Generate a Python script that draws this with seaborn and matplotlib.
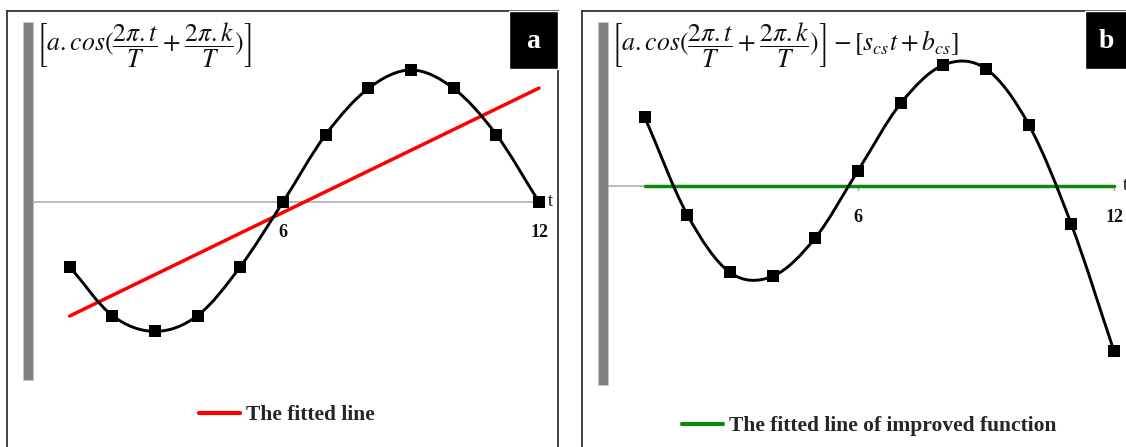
import numpy as np
import seaborn as sns
import matplotlib
matplotlib.use("Agg")
import matplotlib.pyplot as plt
from matplotlib.patches import Rectangle, PathPatch
from matplotlib.path import Path
from matplotlib.lines import Line2D

# ---- data ----
t = [1, 2, 3, 4, 5, 6, 7, 8, 9, 10, 11, 12]
cos_model = [-0.49, -0.86, -0.98, -0.86, -0.49, 0.0, 0.51, 0.86, 1.0, 0.86, 0.51, 0.0]
improved = [0.36, -0.15, -0.45, -0.47, -0.27, 0.08, 0.43, 0.63, 0.61, 0.32, -0.20, -0.86]
fit_slope = 0.157      # s_cs
fit_intercept = -1.021  # b_cs
fit_t = [1, 12]
improved_fit = [0.0, 0.0]
tick_labels = ["6", "12"]
tick_pos = [6, 12]
legend_a = "The fitted line"
legend_b = "The fitted line of improved function"
formula_a = r"$\left[a.cos(\dfrac{2\pi.t}{T}+\dfrac{2\pi.k}{T})\right]$"
formula_b = (r"$\left[a.cos(\dfrac{2\pi.t}{T}+\dfrac{2\pi.k}{T})\right]"
             r"-\left[s_{cs}t+b_{cs}\right]$")

sns.set_theme(style="white")
plt.rcParams["font.family"] = ["Liberation Serif", "DejaVu Serif"]
plt.rcParams["mathtext.fontset"] = "stix"

W, H = 1126, 447
fig = plt.figure(figsize=(W / 100, H / 100), dpi=100)


def px_axes(left, right, top, bottom):
    return fig.add_axes([left / W, 1 - bottom / H, (right - left) / W, (bottom - top) / H])


def smooth_path(ax, xs, ys, **kw):
    """Draw a smooth curve through the points using Catmull-Rom Bezier segments."""
    p = np.column_stack([xs, ys]).astype(float)
    p_ext = np.vstack([2 * p[0] - p[1], p, 2 * p[-1] - p[-2]])
    verts = [tuple(p[0])]
    codes = [Path.MOVETO]
    for i in range(1, len(p_ext) - 2):
        p0, p1, p2, p3 = p_ext[i - 1], p_ext[i], p_ext[i + 1], p_ext[i + 2]
        c1 = p1 + (p2 - p0) / 6.0
        c2 = p2 - (p3 - p1) / 6.0
        verts += [tuple(c1), tuple(c2), tuple(p2)]
        codes += [Path.CURVE4] * 3
    ax.add_patch(PathPatch(Path(verts, codes), fill=False, **kw))


def panel(ax, xlim, ylim, bar_y, values, fit_vals, fit_color, legend_text,
          legend_xy, tick_off):
    ax.set_xlim(*xlim)
    ax.set_ylim(*ylim)
    ax.set_xticks([])
    ax.set_yticks([])
    for sp in ax.spines.values():
        sp.set_color("#333333")
        sp.set_linewidth(1.3)
    ax.spines["bottom"].set_visible(False)
    # vertical gray bar
    ax.add_patch(Rectangle((-0.093, bar_y[1]), 0.234, bar_y[0] - bar_y[1],
                           facecolor="#808080", edgecolor="#c8c8c8", lw=0.6, zorder=1))
    # horizontal t axis
    ax.plot([0.141, 12.05], [0, 0], color="#a8a8a8", lw=1.1, zorder=1)
    span = ylim[1] - ylim[0]
    for tp, tl in zip(tick_pos, tick_labels):
        ax.plot([tp, tp], [0, -span * 0.009], color="#a8a8a8", lw=1.0, zorder=1)
        ax.text(tp, -span * tick_off, tl, ha="center", va="center", fontsize=13,
                fontweight="bold", color="#111111")
    ax.text(12.2, 0.0, "t", ha="left", va="center", fontsize=13, color="#111111")
    # fitted line
    sns.lineplot(x=fit_t, y=fit_vals, color=fit_color, lw=2.5, ax=ax, zorder=3,
                 estimator=None, sort=False)
    # model curve and points
    smooth_path(ax, t, values, edgecolor="black", lw=2.1, zorder=4)
    sns.scatterplot(x=t, y=values, marker="s", s=70, color="black", edgecolor="black",
                    linewidth=0, ax=ax, zorder=5)
    # legend
    handle = Line2D([], [], color=fit_color, lw=3)
    ax.legend([handle], [legend_text], loc="center left", bbox_to_anchor=legend_xy,
              bbox_transform=fig.transFigure, frameon=False, handlelength=1.9,
              handletextpad=0.3, borderpad=0, borderaxespad=0,
              prop={"family": "Liberation Serif", "weight": "bold", "size": 15.5})


# ---- panel a ----
ax_a = px_axes(7, 558, 11, 460)
xa = (6 + (7 - 283) / 42.67, 6 + (558 - 283) / 42.67)
ya = ((202 - 460) / 132, (202 - 11) / 132)
fit_line = [fit_slope * v + fit_intercept for v in fit_t]
panel(ax_a, xa, ya, (1.364, -1.348), cos_model, fit_line, "#ff0000", legend_a,
      (199 / W, 1 - 415 / H), 0.069)
fig.patches.append(Rectangle((509 / W, 1 - 69 / H), 49 / W, 58 / H,
                             transform=fig.transFigure, facecolor="black", figure=fig))
fig.text(533.5 / W, 1 - 42 / H, "a", ha="center", va="center", color="white",
         fontsize=20, fontweight="bold")

# ---- panel b ----
ax_b = px_axes(582, 1140, 11, 460)
xb = (6 + (582 - 858) / 42.67, 6 + (1140 - 858) / 42.67)
yb = ((186 - 460) / 192, (186 - 11) / 192)
panel(ax_b, xb, yb, (0.854, -1.036), improved, improved_fit, "#0a8a0a", legend_b,
      (682 / W, 1 - 426 / H), 0.071)
fig.patches.append(Rectangle((1085 / W, 1 - 69 / H), 60 / W, 58 / H,
                             transform=fig.transFigure, facecolor="black", figure=fig))
fig.text(1106 / W, 1 - 42 / H, "b", ha="center", va="center", color="white",
         fontsize=20, fontweight="bold")

# ---- formulas ----
fig.text(36 / W, 1 - 45 / H, formula_a, ha="left", va="center", fontsize=18.5, color="#111111")
fig.text(611 / W, 1 - 45 / H, formula_b, ha="left", va="center", fontsize=18.5, color="#111111")

fig.savefig("out.png", dpi=100, facecolor="white")
